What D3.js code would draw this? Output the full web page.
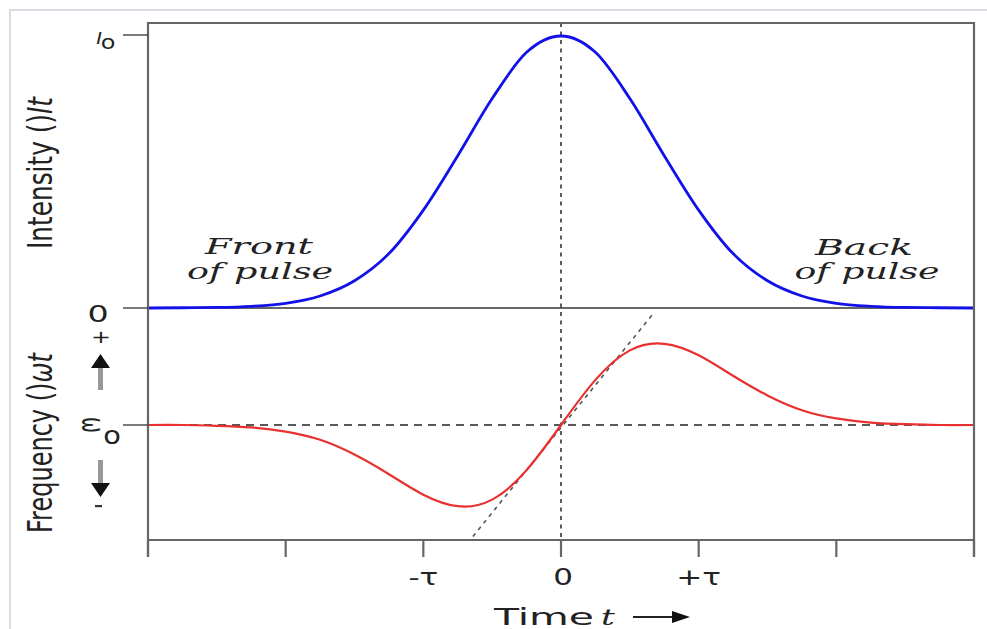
<!DOCTYPE html>
<html>
<head>
<meta charset="utf-8">
<script src="https://cdn.jsdelivr.net/npm/d3@7"></script>
<style>
  body { margin: 0; background: #fff; }
  svg { display: block; }
</style>
</head>
<body>
<svg id="chart" width="987" height="629"></svg>
<script>
// time axis in units of tau
const times = [-3, -2.75, -2.5, -2.25, -2, -1.75, -1.5, -1.25, -1, -0.75, -0.5, -0.25, 0,
               0.25, 0.5, 0.75, 1, 1.25, 1.5, 1.75, 2, 2.25, 2.5, 2.75, 3];
// intensity I(t) / I0
const intensity = [0.000, 0.001, 0.002, 0.006, 0.017, 0.044, 0.10, 0.20, 0.36, 0.56, 0.77, 0.94, 1.00,
                   0.94, 0.77, 0.56, 0.36, 0.20, 0.10, 0.044, 0.017, 0.006, 0.002, 0.001, 0.000];
// frequency shift w(t) - w0, normalised to the peak
const freqShift = [0.00, 0.00, -0.01, -0.03, -0.08, -0.18, -0.36, -0.60, -0.85, -0.99, -0.91, -0.55, 0.00,
                   0.55, 0.91, 0.99, 0.85, 0.60, 0.36, 0.18, 0.08, 0.03, 0.01, 0.00, 0.00];
// dotted tangent through the centre of the pulse
const tangentT = [-0.64, 0.68];
const tangentW = [-1.36, 1.38];
// x tick positions and labels
const xTicks = [-3, -2, -1, 0, 1, 2, 3];
const xTickLabels = {"-1": "-τ", "0": "0", "1": "+τ"};

const svg = d3.select("#chart");

const x = d3.scaleLinear().domain([-3, 3]).range([148, 974]);
const yInt = d3.scaleLinear().domain([0, 1]).range([308, 36]);
const yFreq = d3.scaleLinear().domain([-1, 1]).range([507, 343]);

const plotTop = 23, plotBottom = 540;

//page frame (light grey)
svg.append("rect").attr("width", 987).attr("height", 629).attr("fill", "#fff");
svg.append("path").attr("d", "M10 629 L10 10 L987 10")
  .attr("fill", "none").attr("stroke", "#d8dce2").attr("stroke-width", 2);

//zero line of the intensity panel
svg.append("line").attr("x1", x(-3)).attr("x2", x(3)).attr("y1", yInt(0)).attr("y2", yInt(0))
  .attr("stroke", "#333").attr("stroke-width", 1.5);

//dashed w0 line
svg.append("line").attr("x1", x(-3)).attr("x2", x(3)).attr("y1", yFreq(0)).attr("y2", yFreq(0))
  .attr("stroke", "#222").attr("stroke-width", 1.4).attr("stroke-dasharray", "8,6");

//dotted vertical line at t = 0
svg.append("line").attr("x1", x(0)).attr("x2", x(0)).attr("y1", plotTop).attr("y2", plotBottom)
  .attr("stroke", "#333").attr("stroke-width", 1.6).attr("stroke-dasharray", "4,4.5");

//dotted tangent
svg.append("line")
  .attr("x1", x(tangentT[0])).attr("y1", yFreq(tangentW[0]))
  .attr("x2", x(tangentT[1])).attr("y2", yFreq(tangentW[1]))
  .attr("stroke", "#555").attr("stroke-width", 1.6).attr("stroke-dasharray", "4,4.5");

//frequency curve
const freqLine = d3.line().x((d, i) => x(times[i])).y(d => yFreq(d)).curve(d3.curveNatural);
svg.append("path").attr("d", freqLine(freqShift))
  .attr("fill", "none").attr("stroke", "#e83030").attr("stroke-width", 2.2);

//intensity curve
const intLine = d3.line().x((d, i) => x(times[i])).y(d => yInt(d)).curve(d3.curveMonotoneX);
svg.append("path").attr("d", intLine(intensity))
  .attr("fill", "none").attr("stroke", "#1212e8").attr("stroke-width", 2.8);

//frame: top, right, left, bottom axis
const frame = svg.append("g").attr("stroke", "#666").attr("stroke-width", 2.2).attr("fill", "none");
frame.append("path").attr("d", "M" + x(-3) + " " + (plotBottom + 17) + " V" + plotTop + " H" + x(3) + " V" + (plotBottom + 17));
frame.append("line").attr("x1", x(-3)).attr("x2", x(3)).attr("y1", plotBottom).attr("y2", plotBottom);
frame.selectAll(".xt").data(xTicks).enter().append("line")
  .attr("x1", d => x(d)).attr("x2", d => x(d)).attr("y1", plotBottom).attr("y2", plotBottom + 17);

//left ticks
const leftTicks = [yInt(1) - 1, yInt(0), yFreq(0)];
svg.selectAll(".lt").data(leftTicks).enter().append("line")
  .attr("x1", 123).attr("x2", x(-3)).attr("y1", d => d).attr("y2", d => d)
  .attr("stroke", "#333").attr("stroke-width", 1.3);

//stretched text helper
function label(txt, px, py, size, sx, opts) {
  opts = opts || {};
  const t = svg.append("text")
    .attr("transform", "translate(" + px + "," + py + ") scale(" + sx + ",1)" + (opts.rot ? " rotate(" + opts.rot + ")" : ""))
    .attr("font-family", opts.family || "DejaVu Sans")
    .attr("font-size", size)
    .attr("font-style", opts.italic ? "italic" : "normal")
    .attr("text-anchor", opts.anchor || "middle")
    .attr("fill", "#222")
    .text(txt);
  if (opts.len) t.attr("textLength", opts.len).attr("lengthAdjust", "spacingAndGlyphs");
  return t;
}

//x tick labels
xTicks.filter(d => xTickLabels[d] !== undefined).forEach(d => {
  label(xTickLabels[d], x(d) + (d === 0 ? 2 : 0), 585, 23, 1.35);
});

//x axis title
label("Time", 544, 625, 23, 1, {len: 100});
label("t", 608, 625, 23, 1.5, {family: "DejaVu Serif", italic: true});
svg.append("line").attr("x1", 633).attr("x2", 675).attr("y1", 617).attr("y2", 617)
  .attr("stroke", "#222").attr("stroke-width", 2);
svg.append("path").attr("d", "M690 617 L672 611 L672 623 Z").attr("fill", "#111");

//pulse annotations
const serif = {family: "DejaVu Serif", italic: true};
label("Front", 259, 254, 23, 1, Object.assign({len: 108}, serif));
label("of pulse", 260, 279, 23, 1, Object.assign({len: 146}, serif));
label("Back", 864, 255, 23, 1, Object.assign({len: 98}, serif));
label("of pulse", 867, 279, 23, 1, Object.assign({len: 145}, serif));

//y labels of the intensity panel
label("I", 99, 44, 15, 1.3, {italic: true});
label("o", 108, 49, 20, 1.2);
label("0", 98, 322, 23, 1.45);

//y labels of the frequency panel
label("+", 101, 343, 17, 1.4);
svg.append("rect").attr("x", 98).attr("y", 366).attr("width", 5).attr("height", 24).attr("fill", "#999");
svg.append("path").attr("d", "M100.5 354 L110 368 L91 368 Z").attr("fill", "#111");
label("ω", 82, 425, 19, 1.7, {rot: 90});
label("o", 112, 444, 24, 1.2);
svg.append("rect").attr("x", 98).attr("y", 460).attr("width", 5).attr("height", 24).attr("fill", "#999");
svg.append("path").attr("d", "M100.5 497 L110 483 L91 483 Z").attr("fill", "#111");
svg.append("rect").attr("x", 95).attr("y", 505).attr("width", 7).attr("height", 2.2).attr("fill", "#333");

//rotated axis titles
function rotTitle(parts, cy, len) {
  const t = svg.append("text")
    .attr("transform", "translate(52," + cy + ") scale(1.8,1) rotate(-90)")
    .attr("font-family", "DejaVu Sans").attr("font-size", 19)
    .attr("text-anchor", "middle").attr("fill", "#222")
    .attr("textLength", len).attr("lengthAdjust", "spacingAndGlyphs");
  parts.forEach(p => t.append("tspan").attr("font-style", p[1] ? "italic" : "normal").text(p[0]));
}
rotTitle([["Intensity ()", false], ["It", true]], 173, 152);
rotTitle([["Frequency ()", false], ["ωt", true]], 443, 180);
</script>
</body>
</html>
